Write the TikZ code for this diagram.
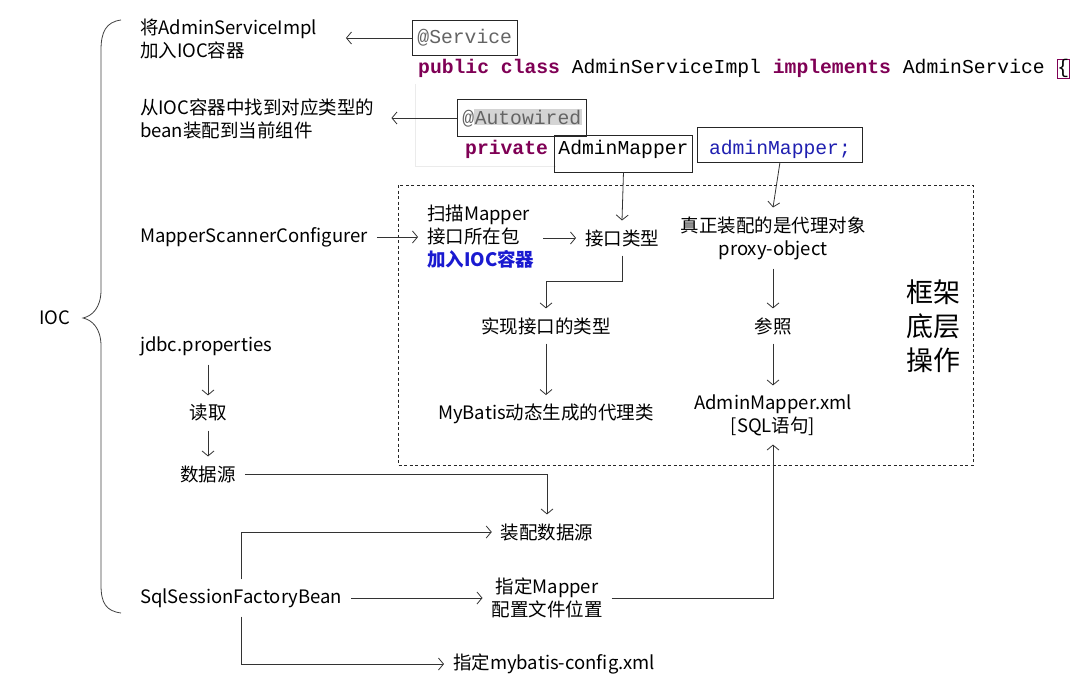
\documentclass[tikz,border=0pt]{standalone}
\usepackage{fontspec}
\setmainfont{Noto Sans CJK SC}
\newfontfamily\codefont{Liberation Mono}
\usetikzlibrary{arrows.meta,positioning}
\definecolor{kwred}{HTML}{7F0055}
\definecolor{varblue}{HTML}{1F1FB0}
\definecolor{anngray}{HTML}{646464}
\definecolor{hlgray}{HTML}{D4D4D4}
\definecolor{iocblue}{HTML}{1A1AD0}
\newcommand{\kw}[1]{\textbf{\color{kwred}#1}}
\newcommand{\hlbox}[1]{{\setlength{\fboxsep}{0.5pt}\colorbox{hlgray}{#1}}}
\begin{document}
\begin{tikzpicture}[x=1pt,y=-1pt,
	every node/.style={inner sep=0pt},
	txt/.style={font=\fontsize{18.5}{23}\selectfont,align=left,outer sep=9pt},
	mid/.style={txt,align=center},
	code/.style={font=\fontsize{19.7}{24}\codefont},
	codebox/.style={code,draw=black!85,line width=0.9pt},
	arr/.style={-{Straight Barb[length=5pt,width=12pt]},line width=0.8pt,black!80}]
		\useasboundingbox (0,0) rectangle (1078,685);
		\node[txt] (ioc) at (55,318) {IOC};
		\draw[line width=0.8pt,black!75] (121,20) .. controls (106,22) and (101,32) .. (101,50) -- (101,290) .. controls (101,308) and (92,316) .. (83,318) .. controls (92,320) and (101,328) .. (101,346) -- (101,585) .. controls (101,603) and (106,611) .. (121,613); % brace
		% code part
		\draw[black!8] (415,84) -- (415,166) -- (556,166); % faint code border
		\node[codebox,anchor=west,inner xsep=5pt,minimum height=35pt,text=anngray] (svc) at (412,38) {@Service};
		\node[code,anchor=base west] (cls) at (418,74) {\kw{public} \kw{class} AdminServiceImpl \kw{implements} AdminService};
		\node[code,draw=kwred,line width=0.8pt,inner sep=0.3pt,anchor=base west] (lbr) at ([xshift=11.8pt]cls.base east) {\{};
		\node[codebox,anchor=west,inner xsep=5pt,minimum height=37pt,text=anngray] (aw) at (457,118) {@\hlbox{Autowired}};
		\node[code,anchor=base west] (priv) at (465,154) {\kw{private}};
		\node[codebox,anchor=base west,inner xsep=4pt,text height=19pt,text depth=18pt] (mtype) at (554,154) {AdminMapper};
		\node[codebox,anchor=base west,minimum width=165pt,text height=27pt,text depth=8pt,text=varblue] (mvar) at (697,154) {adminMapper;};
		% left column (west anchors sit 9pt left of the text)
		\node[txt,anchor=west] (addsvc) at (131,39) {将AdminServiceImpl\\加入IOC容器};
		\node[txt,anchor=west] (findbean) at (131,119) {从IOC容器中找到对应类型的\\bean装配到当前组件};
		\node[txt,anchor=west] (msc) at (131,237) {MapperScannerConfigurer};
		\node[txt,anchor=west] (jdbc) at (131,346) {jdbc.properties};
		\node[mid] (rd) at (208,413) {读取};
		\node[mid] (ds) at (208,474) {数据源};
		\node[txt,anchor=west] (ssfb) at (131,598) {SqlSessionFactoryBean};
		% framework box
		\draw[dash pattern=on 3pt off 2.5pt,line width=0.8pt,black!85] (398,185) rectangle (973,465); % dashed frame
		\node[txt,anchor=west] (scan) at (418,237) {扫描Mapper\\接口所在包\\{\bfseries\color{iocblue}加入IOC容器}};
		\node[mid] (itype) at (622,238) {接口类型};
		\node[mid] (impl) at (546,326) {实现接口的类型};
		\node[mid] (dyncls) at (546,414) {MyBatis动态生成的代理类};
		\node[mid] (real) at (773,238) {真正装配的是代理对象\\proxy-object};
		\node[mid] (refer) at (773,326) {参照};
		\node[mid] (xml) at (773,415) {AdminMapper.xml\\{}[SQL语句]};
		\node[align=center,font=\fontsize{27}{34}\selectfont] (fw) at (933,326) {框架\\底层\\操作};
		% bottom
		\node[mid] (asmds) at (547,532) {装配数据源};
		\node[mid] (loc) at (547,598) {指定Mapper\\配置文件位置};
		\node[txt,anchor=west] (cfg) at (444,664) {指定mybatis-config.xml};
		% arrows
		\draw[arr,shorten >=20pt] (svc.west) -- (svc.west -| addsvc.east);
		\draw[arr,shorten >=8pt] (aw.west) -- (aw.west -| findbean.east);
		\draw[arr] (mtype.south) -- (itype.north);
		\draw[arr] (mvar.south) -- (real.north);
		\draw[arr] (msc.east) -- (scan.west |- msc.east);
		\draw[arr] (scan.east |- itype.west) -- (itype.west);
		\draw[arr] (itype.south) -- ++(0,26) -| (impl.north);
		\draw[arr] (impl.south) -- (dyncls.north);
		\draw[arr] (real.south) -- (refer.north);
		\draw[arr] (refer.south) -- (xml.north);
		\draw[arr] (jdbc.south -| rd.north) -- (rd.north);
		\draw[arr] (rd.south) -- (ds.north);
		\draw[arr] (ds.east) -| (asmds.north);
		\draw[arr] (ssfb.north) |- (asmds.west);
		\draw[arr] (ssfb.east) -- (loc.west);
		\draw[arr] (loc.east) -| (xml.south);
		\draw[arr] (ssfb.south) |- (cfg.west);
\end{tikzpicture}
\end{document}
